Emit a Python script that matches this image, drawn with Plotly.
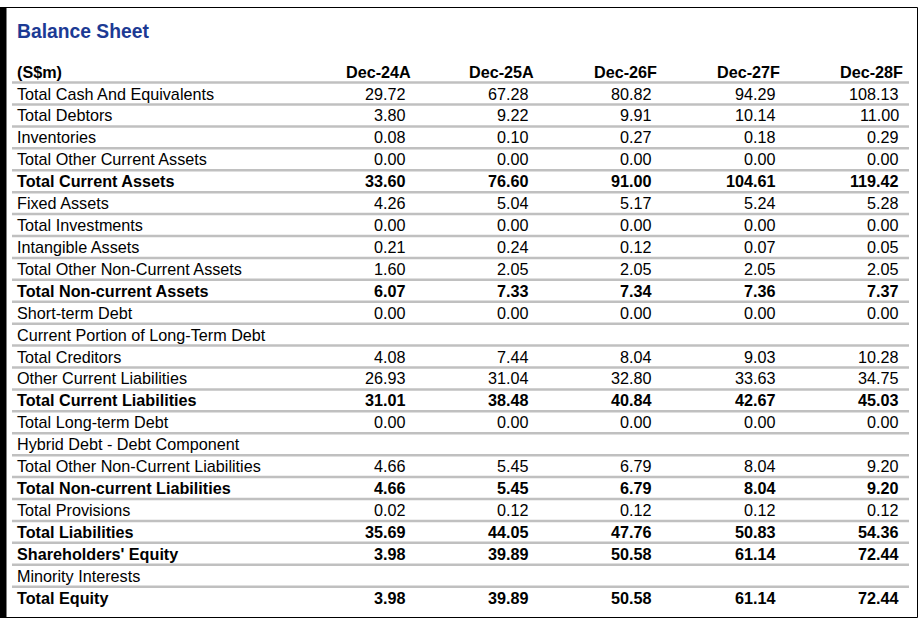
import plotly.graph_objects as go

# balance sheet values (S$m)
periods = ["Dec-24A", "Dec-25A", "Dec-26F", "Dec-27F", "Dec-28F"]

items = [
    "Total Cash And Equivalents",
    "Total Debtors",
    "Inventories",
    "Total Other Current Assets",
    "Total Current Assets",
    "Fixed Assets",
    "Total Investments",
    "Intangible Assets",
    "Total Other Non-Current Assets",
    "Total Non-current Assets",
    "Short-term Debt",
    "Current Portion of Long-Term Debt",
    "Total Creditors",
    "Other Current Liabilities",
    "Total Current Liabilities",
    "Total Long-term Debt",
    "Hybrid Debt - Debt Component",
    "Total Other Non-Current Liabilities",
    "Total Non-current Liabilities",
    "Total Provisions",
    "Total Liabilities",
    "Shareholders' Equity",
    "Minority Interests",
    "Total Equity",
]

bold_items = [
    "Total Current Assets",
    "Total Non-current Assets",
    "Total Current Liabilities",
    "Total Non-current Liabilities",
    "Total Liabilities",
    "Shareholders' Equity",
    "Total Equity",
]

dec24a = [29.72, 3.80, 0.08, 0.00, 33.60, 4.26, 0.00, 0.21, 1.60, 6.07, 0.00, None,
          4.08, 26.93, 31.01, 0.00, None, 4.66, 4.66, 0.02, 35.69, 3.98, None, 3.98]
dec25a = [67.28, 9.22, 0.10, 0.00, 76.60, 5.04, 0.00, 0.24, 2.05, 7.33, 0.00, None,
          7.44, 31.04, 38.48, 0.00, None, 5.45, 5.45, 0.12, 44.05, 39.89, None, 39.89]
dec26f = [80.82, 9.91, 0.27, 0.00, 91.00, 5.17, 0.00, 0.12, 2.05, 7.34, 0.00, None,
          8.04, 32.80, 40.84, 0.00, None, 6.79, 6.79, 0.12, 47.76, 50.58, None, 50.58]
dec27f = [94.29, 10.14, 0.18, 0.00, 104.61, 5.24, 0.00, 0.07, 2.05, 7.36, 0.00, None,
          9.03, 33.63, 42.67, 0.00, None, 8.04, 8.04, 0.12, 50.83, 61.14, None, 61.14]
dec28f = [108.13, 11.00, 0.29, 0.00, 119.42, 5.28, 0.00, 0.05, 2.05, 7.37, 0.00, None,
          10.28, 34.75, 45.03, 0.00, None, 9.20, 9.20, 0.12, 54.36, 72.44, None, 72.44]

columns = [dec24a, dec25a, dec26f, dec27f, dec28f]

# layout (page pixels)
W, H = 921, 622
label_x = 15
num_right = [408, 531, 654, 778, 901]
head_right = [413, 536, 659, 782, 905]
head_y = 71.5
row0_y = 93.5
pitch = 21.92
font_name = "Liberation Sans, Arial, sans-serif"

fig = go.Figure()
ann = []
shapes = []

# frame
shapes.append(dict(type="rect", x0=0, x1=6, y0=7, y1=618, fillcolor="black", line_width=0))
shapes.append(dict(type="rect", x0=6, x1=917.5, y0=7.5, y1=617.5, line=dict(color="black", width=1)))

ann.append(dict(x=label_x, y=31, text="<b>Balance Sheet</b>", xanchor="left", yanchor="middle",
                font=dict(size=19.3, color="#1c3a94")))

# header row
ann.append(dict(x=label_x, y=head_y, text="<b>(S$m)</b>", xanchor="left", yanchor="middle"))
for p, xr in zip(periods, head_right):
    ann.append(dict(x=xr, y=head_y, text="<b>" + p + "</b>", xanchor="right", yanchor="middle"))

for i, name in enumerate(items):
    y = row0_y + pitch * i
    b = name in bold_items
    txt = "<b>" + name + "</b>" if b else name
    ann.append(dict(x=label_x, y=y, text=txt, xanchor="left", yanchor="middle"))
    for col, xr in zip(columns, num_right):
        v = col[i]
        if v is None:
            continue
        s = "%.2f" % v
        if b:
            s = "<b>" + s + "</b>"
        ann.append(dict(x=xr, y=y, text=s, xanchor="right", yanchor="middle"))
    # separator under the previous row
    ly = row0_y + pitch * (i - 0.5)
    shapes.append(dict(type="line", x0=12, x1=909, y0=ly, y1=ly,
                       line=dict(color="#c0c0c0", width=2.5)))

for a in ann:
    a["xref"] = "x"
    a["yref"] = "y"
    a["showarrow"] = False
    a.setdefault("font", dict(size=16.2, color="black"))
for s in shapes:
    s["xref"] = "x"
    s["yref"] = "y"
    s["layer"] = "below"

fig.update_layout(
    width=W, height=H,
    margin=dict(l=0, r=0, t=0, b=0),
    paper_bgcolor="white", plot_bgcolor="white",
    font=dict(family=font_name, size=16.2, color="black"),
    xaxis=dict(range=[0, W], visible=False, fixedrange=True),
    yaxis=dict(range=[H, 0], visible=False, fixedrange=True),
    annotations=ann,
    shapes=shapes,
    showlegend=False,
)

# drop the browser's default body margin so the figure sits at the page corner
fig.write_html("out.html", config={"displayModeBar": False},
               post_script="document.body.style.margin='0';document.body.style.overflow='hidden';")
